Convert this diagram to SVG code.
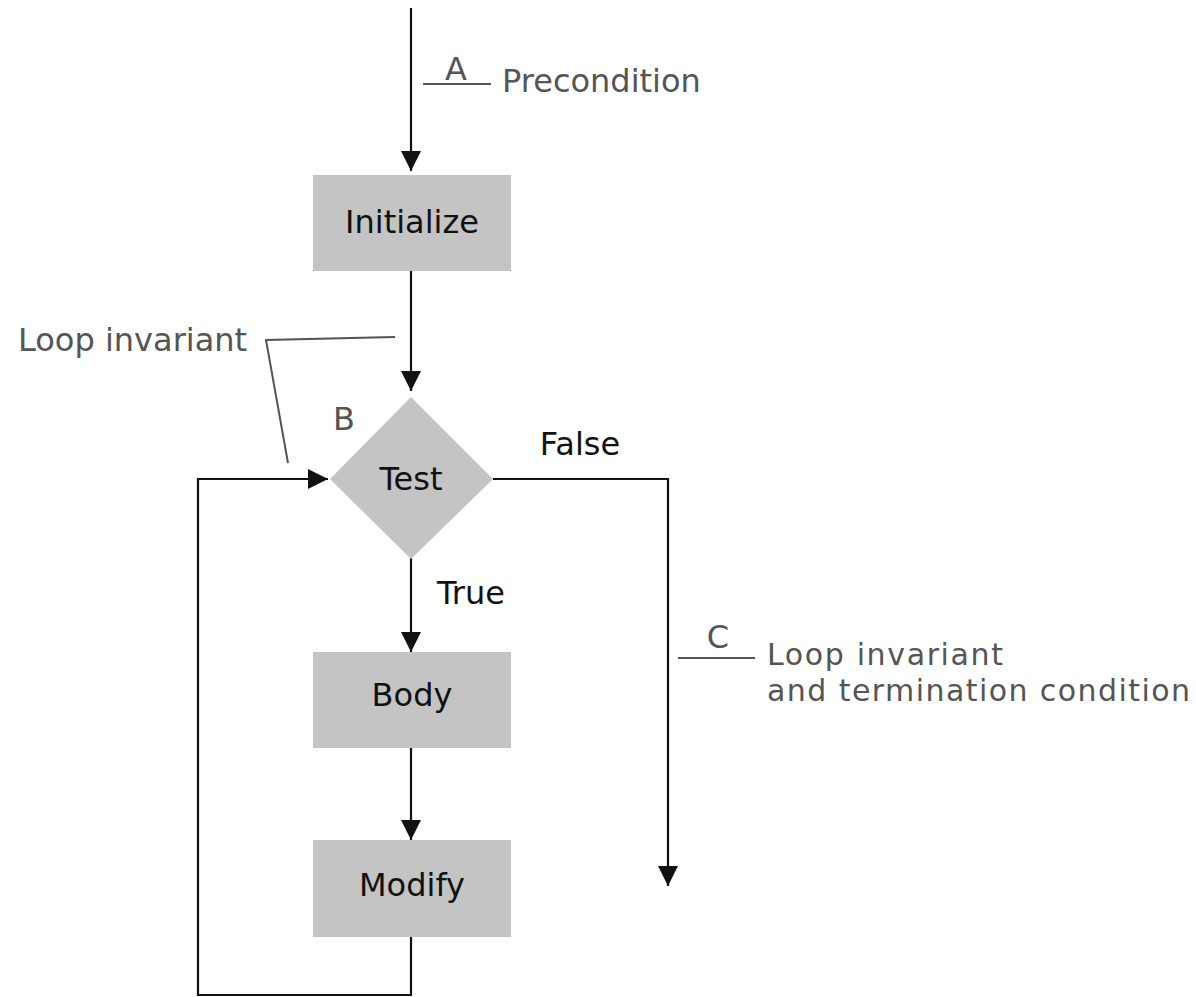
<svg xmlns="http://www.w3.org/2000/svg" width="1196" height="997" viewBox="0 0 1196 997">
<style>
.box{fill:#c4c4c4}
.lbl{font-family:"DejaVu Sans",sans-serif;font-size:32px;fill:#111;text-anchor:middle}
.note{font-family:"DejaVu Sans",sans-serif;font-size:32px;fill:#555}
.note2{font-family:"DejaVu Sans",sans-serif;font-size:30px;fill:#555}
.edge{fill:none;stroke:#111;stroke-width:2.2}
.lead{fill:none;stroke:#555;stroke-width:2}
</style>
<defs>
<marker id="ahv" viewBox="0 0 20 20" refX="20" refY="10" markerWidth="20" markerHeight="20" orient="auto" markerUnits="userSpaceOnUse">
<path d="M0,0 L20,10 L0,20 z" fill="#111"/>
</marker>
</defs>
<g id="connectors">
<line class="edge" x1="411" y1="8" x2="411" y2="171" marker-end="url(#ahv)"/>
<line class="edge" x1="411" y1="271" x2="411" y2="391" marker-end="url(#ahv)"/>
<line class="edge" x1="411" y1="558" x2="411" y2="652" marker-end="url(#ahv)"/>
<line class="edge" x1="411" y1="748" x2="411" y2="840" marker-end="url(#ahv)"/>
<polyline class="edge" points="411,937 411,995 198,995 198,479 328,479" marker-end="url(#ahv)"/>
<polyline class="edge" points="493,479 668,479 668,886" marker-end="url(#ahv)"/>
</g>
<g id="initialize"><rect class="box" x="313" y="175" width="198" height="96"/><text class="lbl" x="412" y="233">Initialize</text></g>
<g id="test"><polygon class="box" points="411,397 493,479 411,559 330,479"/><text class="lbl" x="411" y="490">Test</text></g>
<g id="body"><rect class="box" x="313" y="652" width="198" height="96"/><text class="lbl" x="412" y="706">Body</text></g>
<g id="modify"><rect class="box" x="313" y="840" width="198" height="97"/><text class="lbl" x="412" y="896">Modify</text></g>
<g id="edge-labels">
<text class="lbl" x="580" y="455">False</text>
<text class="lbl" x="471" y="604">True</text>
</g>
<g id="annotation-a">
<line class="lead" x1="423" y1="84" x2="491" y2="84"/>
<text class="note" x="456" y="80" text-anchor="middle">A</text>
<text class="note" x="502" y="92">Precondition</text>
</g>
<g id="annotation-b">
<polyline class="lead" points="395,337 266,340 288,463"/>
<text class="note" x="18" y="351">Loop invariant</text>
<text class="note" x="344" y="430" text-anchor="middle">B</text>
</g>
<g id="annotation-c">
<line class="lead" x1="678" y1="658" x2="755" y2="658"/>
<text class="note" x="718" y="648" text-anchor="middle">C</text>
<text class="note2" x="767" y="665" textLength="236" lengthAdjust="spacing">Loop invariant</text>
<text class="note2" x="767" y="701" textLength="423" lengthAdjust="spacing">and termination condition</text>
</g>
</svg>
